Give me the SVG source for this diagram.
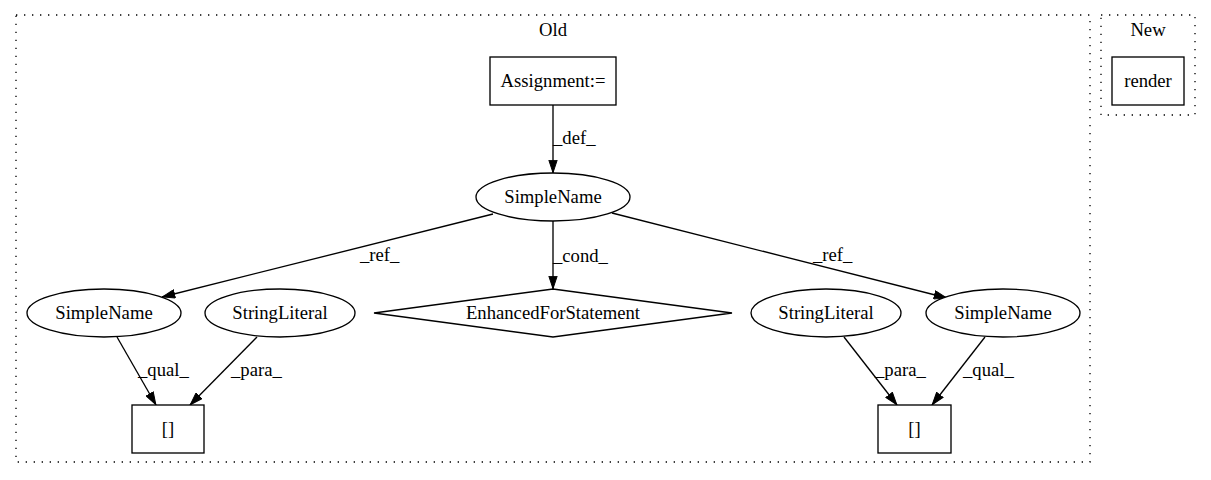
<svg xmlns="http://www.w3.org/2000/svg" width="1211" height="480" viewBox="0 0 1211 480">
<style>
text { font-family: "Liberation Serif", serif; font-size: 18.67px; fill: #000000; }
.c { text-anchor: middle; }
.n { fill: #ffffff; stroke: #000000; stroke-width: 1.33; }
.cl { fill: none; stroke: #000000; stroke-width: 1.33; stroke-dasharray: 1.33,6.67; }
.e { fill: none; stroke: #000000; stroke-width: 1.33; }
</style>
<defs>
<marker id="ah" viewBox="0 0 13.3 9.3" refX="13.3" refY="4.65" markerWidth="13.3" markerHeight="9.3" markerUnits="userSpaceOnUse" orient="auto">
<path d="M0.5,0.5 L13,4.65 L0.5,8.8 Z" fill="#000" stroke="#000" stroke-width="1"/>
</marker>
</defs>
<rect width="1211" height="480" fill="#fff"/>
<g id="cluster_old">
<rect class="cl" x="16" y="15" width="1074" height="447"/>
<text class="c" x="553" y="36">Old</text>
</g>
<g id="cluster_new">
<rect class="cl" x="1101" y="15" width="94" height="100"/>
<text class="c" x="1148" y="36">New</text>
</g>
<g id="edges">
<line class="e" x1="553" y1="105" x2="553" y2="173" marker-end="url(#ah)"/>
<text x="553" y="144">_def_</text>
<line class="e" x1="493" y1="214" x2="162" y2="297" marker-end="url(#ah)"/>
<text x="360" y="261">_ref_</text>
<line class="e" x1="553" y1="221" x2="553" y2="289" marker-end="url(#ah)"/>
<text x="553" y="262">_cond_</text>
<line class="e" x1="612" y1="213" x2="947" y2="298" marker-end="url(#ah)"/>
<text x="813" y="261">_ref_</text>
<line class="e" x1="117" y1="337" x2="156" y2="405" marker-end="url(#ah)"/>
<text x="138" y="376">_qual_</text>
<line class="e" x1="257" y1="337" x2="190" y2="405" marker-end="url(#ah)"/>
<text x="231" y="376">_para_</text>
<line class="e" x1="844" y1="337" x2="897" y2="405" marker-end="url(#ah)"/>
<text x="875" y="376">_para_</text>
<line class="e" x1="985" y1="337" x2="932" y2="405" marker-end="url(#ah)"/>
<text x="963" y="376">_qual_</text>
</g>
<g id="assignment">
<rect class="n" x="490" y="57" width="126" height="48"/>
<text class="c" x="553" y="87">Assignment:=</text>
</g>
<g id="simplename_top">
<ellipse class="n" cx="553" cy="197" rx="77" ry="24"/>
<text class="c" x="553" y="203">SimpleName</text>
</g>
<g id="simplename_left">
<ellipse class="n" cx="104" cy="313" rx="77" ry="24"/>
<text class="c" x="104" y="319">SimpleName</text>
</g>
<g id="stringliteral_left">
<ellipse class="n" cx="280" cy="313" rx="75" ry="24"/>
<text class="c" x="280" y="319">StringLiteral</text>
</g>
<g id="enhancedfor">
<polygon class="n" points="553,289 732,313 553,337 374,313"/>
<text class="c" x="553" y="319">EnhancedForStatement</text>
</g>
<g id="stringliteral_right">
<ellipse class="n" cx="826" cy="313" rx="75" ry="24"/>
<text class="c" x="826" y="319">StringLiteral</text>
</g>
<g id="simplename_right">
<ellipse class="n" cx="1003" cy="313" rx="77" ry="24"/>
<text class="c" x="1003" y="319">SimpleName</text>
</g>
<g id="index_left">
<rect class="n" x="132" y="405" width="72" height="48"/>
<text class="c" x="168" y="435">[]</text>
</g>
<g id="index_right">
<rect class="n" x="878" y="405" width="73" height="48"/>
<text class="c" x="914.5" y="435">[]</text>
</g>
<g id="render">
<rect class="n" x="1112" y="57" width="72" height="48"/>
<text class="c" x="1148" y="87">render</text>
</g>
</svg>
